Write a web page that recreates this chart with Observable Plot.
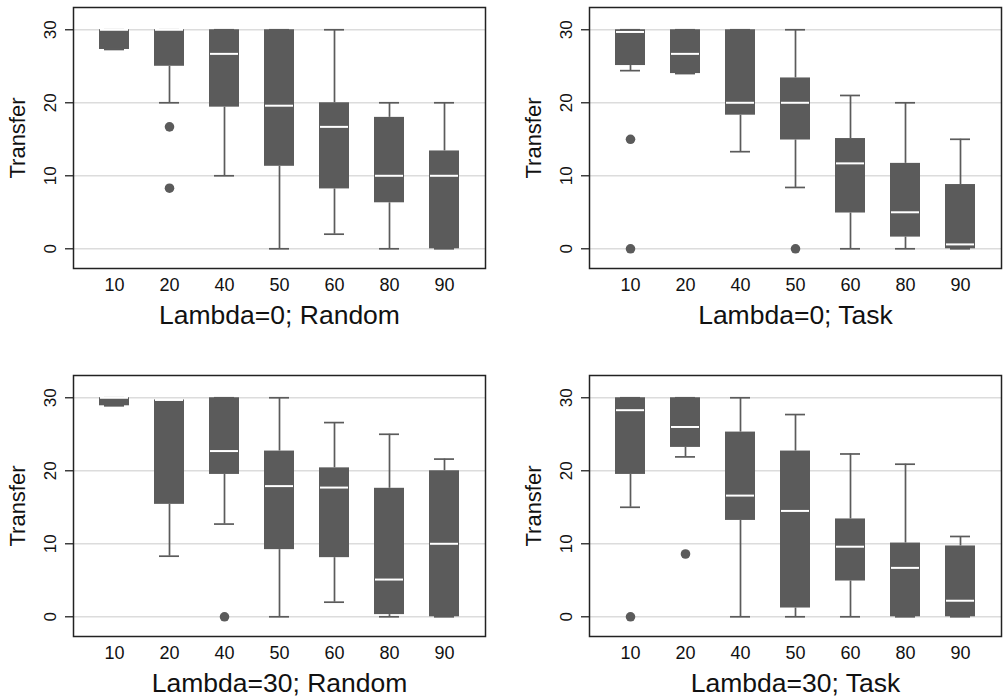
<!DOCTYPE html>
<html>
<head>
<meta charset="utf-8">
<script src="https://cdn.jsdelivr.net/npm/d3@7"></script>
<script src="https://cdn.jsdelivr.net/npm/@observablehq/plot@0.6"></script>
<style>
  html, body { margin: 0; padding: 0; background: #fff; }
  #wrap { position: relative; width: 1003px; height: 696px; overflow: hidden; font-family: "Liberation Sans", Arial, sans-serif; }
  .panel { position: absolute; }
</style>
</head>
<body>
<div id="wrap"></div>
<script>
// ---- data ----
const categories = ["10", "20", "40", "50", "60", "80", "90"];
const panelTitles = ["Lambda=0; Random", "Lambda=0; Task", "Lambda=30; Random", "Lambda=30; Task"];
const yLabel = "Transfer";
const yTicks = [0, 10, 20, 30];

// one row per panel, one value per category
const whiskerLow = [
  [27.3, 20, 10, 0, 2, 0, 0],
  [24.4, 24.0, 13.3, 8.4, 0, 0, 0],
  [28.9, 8.3, 12.7, 0, 2.0, 0, 0],
  [15.0, 21.9, 0, 0, 0, 0, 0]
];
const q1 = [
  [27.3, 25.0, 19.4, 11.3, 8.2, 6.3, 0],
  [25.1, 24.0, 18.3, 14.9, 4.9, 1.6, 0],
  [28.9, 15.4, 19.5, 9.2, 8.1, 0.3, 0],
  [19.5, 23.2, 13.2, 1.2, 4.9, 0, 0]
];
const median = [
  [30, 30, 26.7, 19.6, 16.7, 10, 10],
  [29.7, 26.7, 20, 20, 11.7, 5, 0.6],
  [30, 29.7, 22.7, 17.9, 17.7, 5.1, 10],
  [28.3, 26.0, 16.6, 14.5, 9.6, 6.7, 2.2]
];
const q3 = [
  [30, 30, 30, 30, 20, 18.0, 13.4],
  [30, 30, 30, 23.4, 15.1, 11.7, 8.8],
  [30, 29.7, 30, 22.7, 20.4, 17.6, 20.0],
  [30, 30, 25.3, 22.7, 13.4, 10.1, 9.7]
];
const whiskerHigh = [
  [30, 30, 30, 30, 30, 20, 20],
  [30, 30, 30, 30, 21, 20, 15],
  [30, 29.7, 30, 30, 26.6, 25, 21.6],
  [30, 30, 30, 27.7, 22.3, 20.9, 11.0]
];
// outliers per panel: [category, value]
const outliers = [
  [["20", 16.7], ["20", 8.3]],
  [["10", 15], ["10", 0], ["50", 0]],
  [["40", 0]],
  [["10", 0], ["20", 8.6]]
];

// ---- drawing ----
const boxColor = "#5b5b5b";
const positions = [
  {left: 0, top: 0, width: 500, marginRight: 15},
  {left: 516, top: 0, width: 487, marginRight: 2},
  {left: 0, top: 368, width: 500, marginRight: 15},
  {left: 516, top: 368, width: 487, marginRight: 2}
];
const wrap = document.getElementById("wrap");

panelTitles.forEach((title, p) => {
  const rows = categories.map((c, i) => ({
    cat: c, lo: whiskerLow[p][i], q1: q1[p][i], med: median[p][i], q3: q3[p][i], hi: whiskerHigh[p][i]
  }));
  const out = outliers[p].map(([c, v]) => ({cat: c, v}));
  const pos = positions[p];

  const chart = Plot.plot({
    width: pos.width,
    height: 328,
    marginLeft: 73,
    marginRight: pos.marginRight,
    marginTop: 7,
    marginBottom: 60,
    style: {fontFamily: "Liberation Sans, Arial, sans-serif", background: "#fff", color: "#111"},
    x: {type: "band", domain: categories, paddingInner: 0.46, paddingOuter: 0.44, label: null},
    y: {domain: [-2.7, 33.05], label: null},
    marks: [
      Plot.ruleY(yTicks, {stroke: "#dcdcdc", strokeWidth: 1.4}),
      Plot.ruleX(rows, {x: "cat", y1: "lo", y2: "q1", stroke: boxColor, strokeWidth: 1.7}),
      Plot.ruleX(rows, {x: "cat", y1: "q3", y2: "hi", stroke: boxColor, strokeWidth: 1.7}),
      Plot.tickY(rows, {x: "cat", y: "lo", stroke: boxColor, strokeWidth: 1.7, insetLeft: 5, insetRight: 5}),
      Plot.tickY(rows, {x: "cat", y: "hi", stroke: boxColor, strokeWidth: 1.7, insetLeft: 5, insetRight: 5}),
      Plot.barY(rows, {x: "cat", y1: "q1", y2: "q3", fill: boxColor}),
      Plot.tickY(rows, {x: "cat", y: "med", stroke: "#fff", strokeWidth: 2, insetLeft: 1, insetRight: 1}),
      Plot.dot(out, {x: "cat", y: "v", r: 4.8, fill: boxColor, stroke: "none"}),
      Plot.frame({stroke: "#222", strokeWidth: 1.5}),
      Plot.axisY({ticks: yTicks, tickSize: 8, tickFormat: () => "", label: null, stroke: "#222", strokeWidth: 1.3}),
      Plot.text(yTicks, {y: (d) => d, text: (d) => String(d), frameAnchor: "left", textAnchor: "middle", dx: -23, rotate: -90, fontSize: 17, fill: "#111"}),
      Plot.axisX({tickSize: 0, tickPadding: 10, fontSize: 18, label: null}),
      Plot.text([yLabel], {frameAnchor: "left", textAnchor: "middle", dx: -56, rotate: -90, fontSize: 22, fill: "#111"}),
      Plot.text([title], {frameAnchor: "bottom", dy: 55, fontSize: 26.5, fill: "#111"})
    ]
  });
  const div = document.createElement("div");
  div.className = "panel";
  div.style.left = pos.left + "px";
  div.style.top = pos.top + "px";
  div.appendChild(chart);
  wrap.appendChild(div);
});
</script>
</body>
</html>
